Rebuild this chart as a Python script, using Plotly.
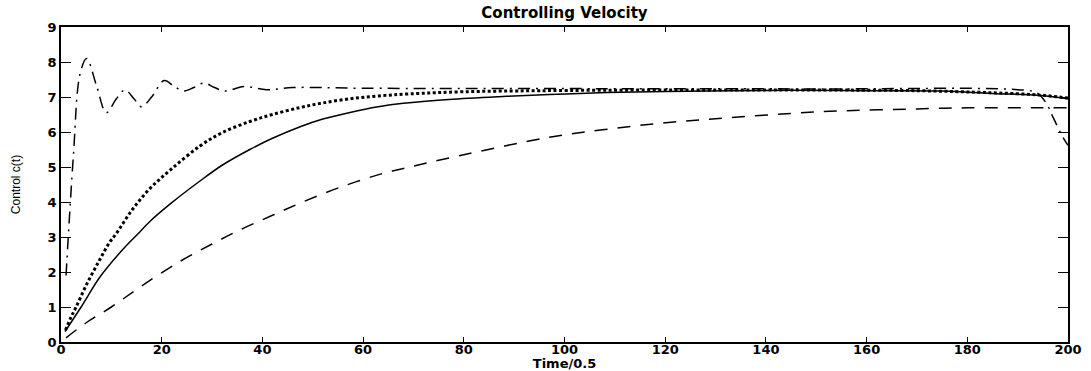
import plotly.graph_objects as go

# ---- data ----
t_solid = [0.8, 4, 7.7, 12, 15.7, 17.7, 22, 27.6, 32, 37.5, 42, 47.5, 52, 57.4, 63, 68,
           77, 87, 97, 107, 120, 145, 160, 175, 185, 194, 200]
y_solid = [0.3, 1.0, 1.85, 2.6, 3.15, 3.45, 3.98, 4.6, 5.05, 5.5, 5.82, 6.15, 6.37, 6.56,
           6.72, 6.82, 6.93, 7.01, 7.07, 7.12, 7.16, 7.19, 7.18, 7.17, 7.1, 7.05, 6.95]

t_dotted = [0.9, 1.9, 3, 5, 7.5, 9.7, 10.9, 14, 17.7, 22, 27.6, 32, 37.5, 42, 47.5, 52, 57.4,
            63, 69.3, 80, 95, 120, 150, 170, 185, 194, 200]
y_dotted = [0.34, 0.68, 1.0, 1.62, 2.3, 2.86, 3.08, 3.75, 4.39, 4.95, 5.6, 5.98, 6.3, 6.5,
            6.7, 6.83, 6.95, 7.03, 7.09, 7.15, 7.18, 7.2, 7.2, 7.18, 7.12, 7.06, 6.97]

t_dashed = [1, 5, 10, 16, 23.6, 30, 35.5, 42, 48, 56, 64, 68, 80, 97, 108, 119, 130, 145,
            154, 170, 180, 194, 200]
y_dashed = [0.12, 0.55, 1.0, 1.6, 2.3, 2.8, 3.2, 3.62, 4.0, 4.45, 4.82, 4.96, 5.35, 5.85,
            6.07, 6.25, 6.38, 6.53, 6.6, 6.66, 6.69, 6.69, 6.69]

t_dashdot = [1, 2.45, 3.8, 5.1, 7.1, 9, 11, 12.7, 14.5, 16, 18, 20.5, 22.5, 24.4, 26.5, 28.4,
             30.5, 32.6, 36.3, 40.8, 46, 60, 100, 150, 190, 193.8, 195.7, 197, 198.8, 200]
y_dashdot = [1.9, 5.3, 7.67, 8.1, 7.3, 6.55, 6.95, 7.2, 6.95, 6.72, 7.0, 7.47, 7.3, 7.17, 7.28,
             7.4, 7.27, 7.17, 7.3, 7.21, 7.27, 7.25, 7.24, 7.23, 7.21, 7.12, 6.82, 6.43, 5.9, 5.62]

x_ticks = [0, 20, 40, 60, 80, 100, 120, 140, 160, 180, 200]
y_ticks = [0, 1, 2, 3, 4, 5, 6, 7, 8, 9]

title_text = "Controlling Velocity"
x_title = "Time/0.5"
y_title = "Control c(t)"

fig = go.Figure()
fig.add_trace(go.Scatter(x=t_dashed, y=y_dashed, mode="lines",
                         line=dict(color="black", width=1.5, dash="13px,10px", shape="spline")))
fig.add_trace(go.Scatter(x=t_solid, y=y_solid, mode="lines",
                         line=dict(color="black", width=1.5, shape="spline")))
fig.add_trace(go.Scatter(x=t_dotted, y=y_dotted, mode="lines",
                         line=dict(color="black", width=3, dash="3px,2.5px", shape="spline")))
fig.add_trace(go.Scatter(x=t_dashdot, y=y_dashdot, mode="lines",
                         line=dict(color="black", width=1.5, dash="12px,6px,2px,6px", shape="spline")))

tickfont = dict(family="DejaVu Sans", size=13, color="black", weight="bold")
fig.update_layout(
    width=1091, height=371,
    margin=dict(l=61, r=23, t=27, b=29),
    paper_bgcolor="white", plot_bgcolor="white",
    showlegend=False,
    title=dict(text=title_text, x=0.5, xanchor="center", y=0.965, yanchor="middle",
               xref="paper",
               font=dict(family="DejaVu Sans", size=15, color="black", weight="bold")),
    xaxis=dict(range=[0, 200], tickvals=x_ticks, ticktext=[str(v) for v in x_ticks],
               showgrid=False, zeroline=False, showline=True, linecolor="black", linewidth=1.5,
               mirror="ticks", ticks="inside", ticklen=5, tickwidth=1.2, tickcolor="black",
               tickfont=tickfont, automargin=False, ticklabelstandoff=-5,
               title=dict(text=x_title, standoff=3,
                          font=dict(family="DejaVu Sans", size=13, color="black", weight="bold"))),
    yaxis=dict(range=[0, 9], tickvals=y_ticks, ticktext=[str(v) for v in y_ticks],
               showgrid=False, zeroline=False, showline=True, linecolor="black", linewidth=1.5,
               mirror="ticks", ticks="inside", ticklen=10, tickwidth=1.2, tickcolor="black",
               tickfont=tickfont, automargin=False,
               title=dict(text=y_title, standoff=24,
                          font=dict(family="Liberation Sans", size=12, color="black"))),
)

fig.write_html("out.html", post_script="document.body.style.margin='0';",
               config={"displayModeBar": False})
